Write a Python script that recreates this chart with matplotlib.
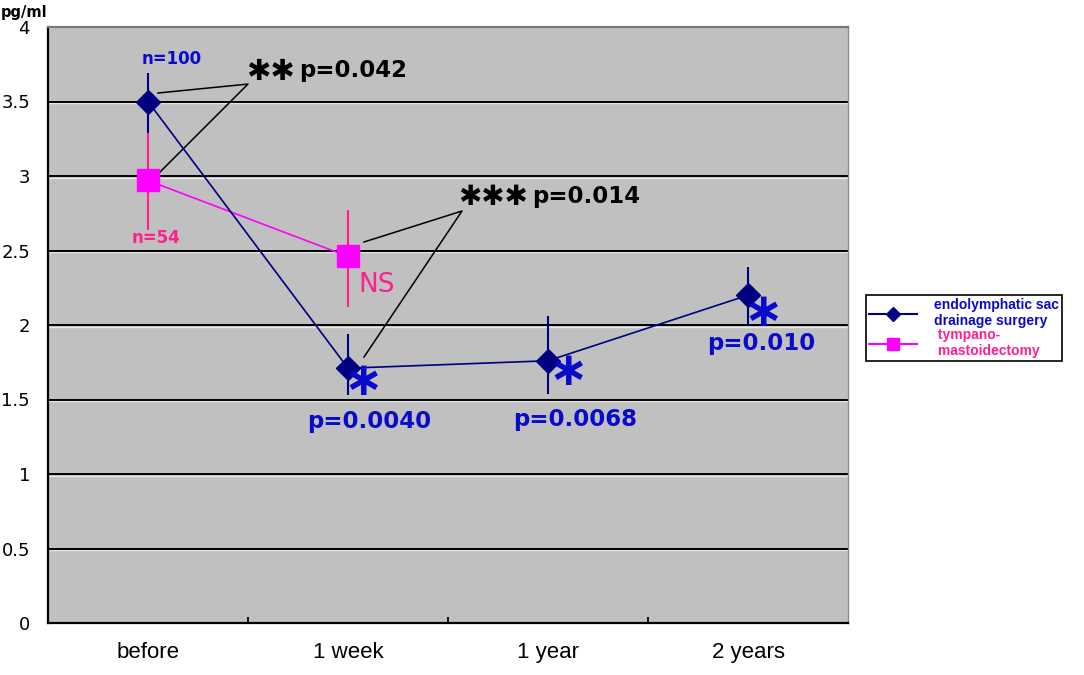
import matplotlib
matplotlib.use("Agg")
import matplotlib.pyplot as plt
from matplotlib.lines import Line2D
from matplotlib.transforms import offset_copy
import numpy as np

# data
categories = ["before", "1 week", "1 year", "2 years"]

esd_mean = [3.50, 1.71, 1.76, 2.20]
esd_low = [3.29, 1.53, 1.54, 2.00]
esd_high = [3.69, 1.94, 2.06, 2.39]

tm_mean = [2.97, 2.46]
tm_low = [2.64, 2.12]
tm_high = [3.29, 2.77]

yticks = [0, 0.5, 1, 1.5, 2, 2.5, 3, 3.5, 4]
ytick_labels = ["0", "0.5", "1", "1.5", "2", "2.5", "3", "3.5", "4"]

esd_p = ["p=0.0040", "p=0.0068", "p=0.010"]

NAVY = "#000080"
BLUE = "#0A0ACC"
MAGENTA = "#FF00FF"
PINK = "#FF1F8F"

fig = plt.figure(figsize=(10.84, 6.75), dpi=100)
ax = fig.add_axes([48/1084, 52/675, 800/1084, 596/675])
ax.set_facecolor("#C0C0C0")
ax.set_xlim(-0.5, 3.5)
ax.set_ylim(0, 4)

# gridlines with a light line under each (old excel look)
lite = offset_copy(ax.get_yaxis_transform(), fig=fig, y=-1.5, units="dots")
for y in yticks[1:-1]:
    ax.plot([0, 1], [y, y], color="#E6E6E6", lw=1, transform=lite, zorder=1)
    ax.axhline(y, color="black", lw=1.4, zorder=1.5)

x = np.arange(len(categories))
xt = x[:len(tm_mean)]

# tympanomastoidectomy
ax.vlines(xt, tm_low, tm_high, color=PINK, lw=1.5, zorder=3)
ax.plot(xt, tm_mean, color=MAGENTA, lw=1.2, marker="s", ms=16,
        mfc=MAGENTA, mec=MAGENTA, zorder=4)

# endolymphatic sac drainage surgery
ax.vlines(x, esd_low, esd_high, color=NAVY, lw=1.5, zorder=3)
ax.plot(x, esd_mean, color=NAVY, lw=1.2, marker="D", ms=12,
        mfc=NAVY, mec=NAVY, zorder=5)

# axes styling
ax.set_yticks(yticks)
ax.set_yticklabels(ytick_labels, fontsize=13)
ax.tick_params(axis="y", length=0, pad=13)
ax.set_xticks(x)
ax.set_xticklabels(categories, fontsize=16, family="Liberation Sans")
ax.tick_params(axis="x", length=0, pad=14)
ax.set_xticks([0.5, 1.5, 2.5], minor=True)
ax.tick_params(axis="x", which="minor", direction="in", length=4, width=1.3, color="black")
for s in ["left", "bottom"]:
    ax.spines[s].set_color("black")
    ax.spines[s].set_linewidth(1.6)
ax.spines["top"].set_color("#7A7A7A")
ax.spines["top"].set_linewidth(1.6)
ax.spines["right"].set_color("#8A8A8A")
ax.spines["right"].set_linewidth(1.0)

fig.text(24/1084, 1 - 12/675, "pg/ml", fontsize=10.5, fontweight="bold",
         ha="center", va="center")

# n labels
ax.text(0.12, 3.785, "n=100", color=BLUE, fontsize=12, fontweight="bold",
        ha="center", va="center", zorder=6)
ax.text(0.04, 2.584, "n=54", color=PINK, fontsize=12, fontweight="bold",
        ha="center", va="center", zorder=6)

# significance brackets
ax.plot([0.05, 0.50, 0.055], [3.557, 3.617, 3.02], color="black", lw=1.1, zorder=2)
ax.text(0.61, 3.70, "\u2731\u2731", fontsize=21, ha="center", va="center",
        color="black", zorder=6)
ax.text(0.755, 3.71, "p=0.042", fontsize=16.5, fontweight="bold",
        ha="left", va="center", color="black", zorder=6)

ax.plot([1.08, 1.57, 1.08], [2.557, 2.765, 1.785], color="black", lw=1.1, zorder=2)
ax.text(1.725, 2.86, "\u2731\u2731\u2731", fontsize=20, ha="center", va="center",
        color="black", zorder=6)
ax.text(1.92, 2.86, "p=0.014", fontsize=16.5, fontweight="bold",
        ha="left", va="center", color="black", zorder=6)

ax.text(1.05, 2.268, "NS", color=PINK, fontsize=19, ha="left", va="center", zorder=6)

# asterisks and p-values after surgery
star_pos = [(1.075, 1.611), (2.10, 1.678), (3.075, 2.08)]
p_pos = [(1.105, 1.349), (2.135, 1.369), (3.065, 1.879)]
for (sx, sy), (px, py), lab in zip(star_pos, p_pos, esd_p):
    ax.text(sx, sy, "\u2217", color=BLUE, fontsize=34, fontweight="bold",
            ha="center", va="center", zorder=6)
    ax.text(px, py, lab, color=BLUE, fontsize=16.5, fontweight="bold",
            ha="center", va="center", zorder=6)

# legend
handles = [
    Line2D([], [], color=NAVY, lw=1.5, marker="D", ms=7, mfc=NAVY, mec=NAVY),
    Line2D([], [], color=MAGENTA, lw=1.5, marker="s", ms=8, mfc=MAGENTA, mec=MAGENTA),
]
labels = ["endolymphatic sac\ndrainage surgery", " tympano-\n mastoidectomy"]
leg = fig.legend(handles, labels, loc="upper left",
                 bbox_to_anchor=(866/1084, 1 - 295/675),
                 prop={"family": "Liberation Sans", "weight": "bold", "size": 10},
                 handlelength=3.5, handletextpad=1.2, borderpad=0.2,
                 labelspacing=0.0, borderaxespad=0, fancybox=False,
                 framealpha=1, edgecolor="black")
leg.get_frame().set_linewidth(1.2)
for t, c in zip(leg.get_texts(), [BLUE, PINK]):
    t.set_color(c)
    t.set_linespacing(1.2)

fig.savefig("out.png", dpi=100)
